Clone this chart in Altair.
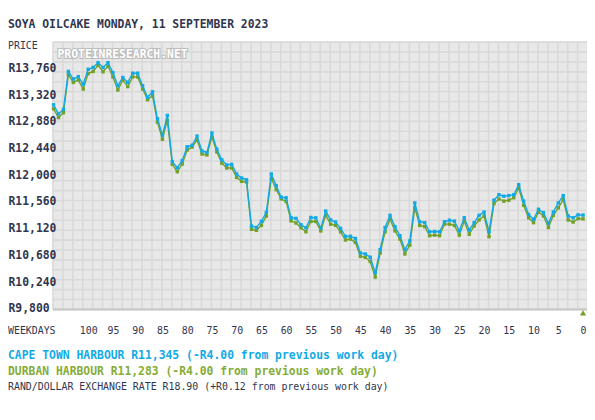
import altair as alt
import pandas as pd

# ---------------- text content ----------------
title_text = "SOYA OILCAKE MONDAY, 11 SEPTEMBER 2023"
price_label = "PRICE"
weekday_label = "WEEKDAYS"
watermark = "PROTEINRESEARCH.NET"
cape_line = "CAPE TOWN HARBOUR R11,345 (-R4.00 from previous work day)"
durban_line = "DURBAN HARBOUR R11,283 (-R4.00 from previous work day)"
rand_line = "RAND/DOLLAR EXCHANGE RATE R18.90 (+R0.12 from previous work day)"

# ---------------- data ----------------
weekdays = list(range(107, -1, -1))
cape_town = [
    13160, 13010, 13085, 13710, 13585, 13625, 13500, 13745, 13775, 13855,
    13775, 13855, 13690, 13475, 13610, 13530, 13680, 13680, 13475, 13285,
    13375, 12930, 12660, 12985, 12225, 12125, 12240, 12470, 12495, 12645,
    12400, 12375, 12695, 12430, 12255, 12170, 12180, 12020, 11955, 11925,
    11165, 11140, 11240, 11390, 12020, 11830, 11640, 11630, 11300, 11290,
    11185, 11135, 11305, 11300, 11130, 11410, 11265, 11230, 11125, 10995,
    10995, 10960, 10720, 10705, 10650, 10395, 10775, 11140, 11340, 11155,
    11005, 10775, 10920, 11545, 11235, 11220, 11070, 11075, 11070, 11235,
    11260, 11245, 11085, 11300, 11100, 11220, 11340, 11395, 11070, 11590,
    11680, 11655, 11665, 11680, 11845, 11575, 11355, 11275, 11440, 11385,
    11210, 11395, 11545, 11665, 11330, 11300, 11349, 11345,
]
durban = [
    13095, 12950, 13030, 13655, 13530, 13570, 13420, 13675, 13710, 13810,
    13705, 13800, 13620, 13405, 13570, 13460, 13620, 13620, 13420, 13245,
    13310, 12875, 12595, 12905, 12180, 12060, 12185, 12415, 12465, 12580,
    12350, 12335, 12630, 12385, 12200, 12120, 12120, 11965, 11900, 11890,
    11110, 11095, 11175, 11330, 11950, 11765, 11610, 11570, 11250, 11215,
    11135, 11070, 11240, 11240, 11085, 11340, 11195, 11175, 11070, 10935,
    10950, 10895, 10665, 10650, 10580, 10325, 10720, 11070, 11275, 11085,
    10950, 10705, 10850, 11465, 11175, 11155, 11005, 11015, 11005, 11195,
    11195, 11175, 11015, 11245, 11030, 11165, 11265, 11330, 10990, 11535,
    11610, 11575, 11590, 11630, 11790, 11505, 11300, 11220, 11395, 11330,
    11140, 11340, 11465, 11600, 11265, 11230, 11287, 11283,
]
y_ticks = [9800, 10240, 10680, 11120, 11560, 12000, 12440, 12880, 13320, 13760]
x_ticks = [100, 95, 90, 85, 80, 75, 70, 65, 60, 55, 50, 45, 40, 35, 30, 25, 20, 15, 10, 5, 0]
latest_day = [0]

df = pd.DataFrame({"w": weekdays, "cape": cape_town, "durban": durban})

# ---------------- styling ----------------
FONT = "DejaVu Sans Mono"
NAVY = "#2f3650"
BLUE = "#12aae6"
GREEN = "#72a028"
GREEN_TXT = "#86ac36"
GRID = "#d9d9d9"

W, H = 540, 270
X_MIN, X_MAX = -0.8, 107.2
Y_MIN, Y_MAX = 9800, 14200

xs = alt.Scale(domain=[X_MIN, X_MAX], reverse=True, nice=False, zero=False)
ys = alt.Scale(domain=[Y_MIN, Y_MAX], nice=False, zero=False)

grid_x = [round(X_MIN + 2 * k, 3) for k in range(55)]
grid_y = [Y_MAX - k * (Y_MAX - Y_MIN) / 27 for k in range(28)]

grid_axis_x = alt.Axis(values=grid_x, grid=True, gridColor=GRID, gridWidth=1.6,
                       labels=False, ticks=False, domain=False, title=None, orient="bottom")
grid_axis_y = alt.Axis(values=grid_y, grid=True, gridColor=GRID, gridWidth=1.6,
                       labels=False, ticks=False, domain=False, title=None, orient="left")

label_axis_x = alt.Axis(values=x_ticks, grid=False, ticks=False, tickSize=0,
                        domain=True, domainColor="#c6c6c6", domainWidth=2,
                        labelFont=FONT, labelFontSize=10, labelColor=NAVY,
                        labelPadding=17, labelFlush=False, labelOverlap=False,
                        labelBound=False, title=None, orient="bottom")
label_axis_y = alt.Axis(values=y_ticks, grid=False, ticks=False, tickSize=0, domain=False,
                        labelFont=FONT, labelFontSize=11.5, labelFontWeight="bold",
                        labelColor=NAVY, labelAlign="left", labelBaseline="middle",
                        labelPadding=45, labelFlush=False, labelOverlap=False,
                        labelBound=False,
                        labelExpr="'R' + format(datum.value, ',')",
                        title=None, orient="left")

base = alt.Chart(df)

green_line = base.mark_line(color=GREEN, strokeWidth=1.4).encode(
    x=alt.X("w:Q", scale=xs, axis=grid_axis_x),
    y=alt.Y("durban:Q", scale=ys, axis=grid_axis_y),
)
green_pts = base.mark_square(color=GREEN, size=12, opacity=1).encode(
    x=alt.X("w:Q", scale=xs, axis=None),
    y=alt.Y("durban:Q", scale=ys, axis=None),
)
blue_line = base.mark_line(color=BLUE, strokeWidth=1.4).encode(
    x=alt.X("w:Q", scale=xs, axis=label_axis_x),
    y=alt.Y("cape:Q", scale=ys, axis=label_axis_y),
)
blue_pts = base.mark_square(color=BLUE, size=12, opacity=1).encode(
    x=alt.X("w:Q", scale=xs, axis=None),
    y=alt.Y("cape:Q", scale=ys, axis=None),
)

marker = alt.Chart(pd.DataFrame({"w": latest_day})).mark_point(
    shape="triangle-up", filled=True, color=GREEN, size=40, opacity=1
).encode(x=alt.X("w:Q", scale=xs, axis=None), y=alt.value(H + 4))


def text_layer(txt, x, y, color=NAVY, size=10, weight="normal", **kw):
    return alt.Chart(pd.DataFrame({"t": [txt]})).mark_text(
        font=FONT, fontSize=size, fontWeight=weight, color=color,
        align="left", baseline="middle", **kw
    ).encode(x=alt.value(x), y=alt.value(y), text="t:N")


wm_shadow = text_layer(watermark, 5, 14, color="#bdbdbd", size=11.5, weight="bold",
                       stroke="#bdbdbd", strokeWidth=2.2)
wm = text_layer(watermark, 5, 14, color="#ffffff", size=11.5, weight="bold")
title = text_layer(title_text, -45, -17, size=11.5, weight="bold")
price = text_layer(price_label, -45, 4, size=10)
wk = text_layer(weekday_label, -45, 292, size=10)
cape_t = text_layer(cape_line, -45, 318, color=BLUE, size=11.5, weight="bold")
dur_t = text_layer(durban_line, -45, 334, color=GREEN_TXT, size=11.5, weight="bold")
rand_t = text_layer(rand_line, -45, 349, size=10)

chart = alt.layer(
    green_line, wm_shadow, wm, green_pts, blue_line, blue_pts, marker,
    title, price, wk, cape_t, dur_t, rand_t,
).resolve_axis(x="independent", y="independent").properties(
    width=W, height=H,
    autosize=alt.AutoSizeParams(type="none"),
    padding={"left": 45, "top": 32, "right": 0, "bottom": 88},
    background="#ffffff",
).configure_view(fill="#e8e8e8", strokeWidth=0)

chart.save("out.html", embed_options={"renderer": "svg", "actions": False})
